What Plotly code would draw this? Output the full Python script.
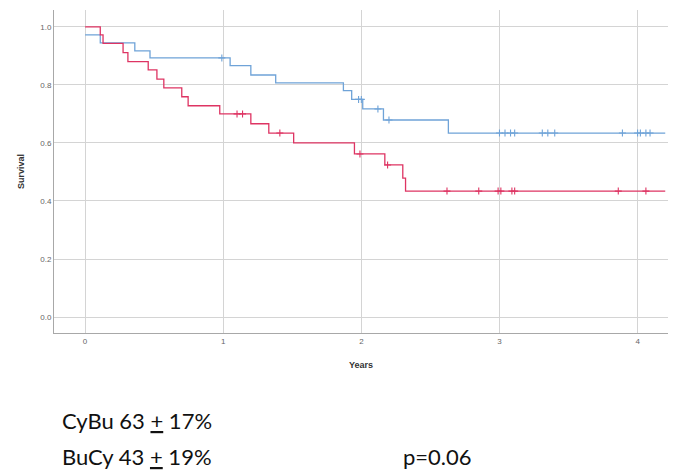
import plotly.graph_objects as go
import numpy as np

# CyBu (blue)
cybu_start = 0.972
cybu_times = [0.11, 0.36, 0.47, 1.05, 1.20, 1.38, 1.87, 1.93, 2.01, 2.16, 2.63]
cybu_surv = [0.945, 0.917, 0.893, 0.866, 0.834, 0.807, 0.780, 0.750, 0.717, 0.679, 0.634]
cybu_censor = [0.99, 1.98, 2.00, 2.12, 2.20, 3.00, 3.04, 3.08, 3.11, 3.31, 3.35, 3.40,
               3.89, 4.00, 4.02, 4.06, 4.09]
cybu_end = 4.2

# BuCy (red)
bucy_start = 1.0
bucy_times = [0.11, 0.13, 0.275, 0.31, 0.457, 0.52, 0.57, 0.70, 0.746, 0.975, 1.20, 1.33,
              1.51, 1.95, 2.17, 2.30, 2.32]
bucy_surv = [0.972, 0.943, 0.911, 0.880, 0.852, 0.820, 0.790, 0.759, 0.728, 0.700, 0.666,
             0.634, 0.600, 0.562, 0.524, 0.479, 0.434]
bucy_censor = [1.10, 1.14, 1.41, 1.99, 2.19, 2.62, 2.85, 2.99, 3.01, 3.09, 3.11, 3.86, 4.06]
bucy_end = 4.2

x_ticks = [0, 1, 2, 3, 4]
y_ticks = [0.0, 0.2, 0.4, 0.6, 0.8, 1.0]

BLUE = "#6fa3d8"
RED = "#de3463"


def step_xy(start, times, surv, end):
    xs = [0.0] + list(times) + [end]
    ys = [start] + list(surv) + [surv[-1]]
    return xs, ys


def surv_at(t, start, times, surv):
    s = start
    for ti, si in zip(times, surv):
        if ti <= t:
            s = si
    return s


fig = go.Figure()

for start, times, surv, end, cens, col in [
    (cybu_start, cybu_times, cybu_surv, cybu_end, cybu_censor, BLUE),
    (bucy_start, bucy_times, bucy_surv, bucy_end, bucy_censor, RED),
]:
    xs, ys = step_xy(start, times, surv, end)
    fig.add_trace(go.Scatter(x=xs, y=ys, mode="lines", line=dict(color=col, width=1.3, shape="hv"),
                             showlegend=False, hoverinfo="skip"))
    cy = [surv_at(t, start, times, surv) for t in cens]
    fig.add_trace(go.Scatter(x=cens, y=cy, mode="markers",
                             marker=dict(symbol="cross-thin", size=5, color=col,
                                         line=dict(color=col, width=1.1)),
                             showlegend=False, hoverinfo="skip"))

fig.update_layout(
    width=686, height=472,
    margin=dict(l=54, r=18, t=10, b=139),
    paper_bgcolor="white", plot_bgcolor="white",
    font=dict(family="Liberation Sans, Arial, sans-serif", color="#555555"),
    xaxis=dict(range=[-0.225, 4.22], tickvals=x_ticks, ticktext=[str(v) for v in x_ticks],
               showgrid=True, gridcolor="#d4d4d4", gridwidth=1, zeroline=False,
               showline=True, linecolor="#a8a8a8", linewidth=1, ticks="",
               tickfont=dict(size=8, color="#666666"),
               title=dict(text="<b>Years</b>", font=dict(size=9, color="#333333"), standoff=17)),
    yaxis=dict(range=[-0.055, 1.058], tickvals=y_ticks, ticktext=[f"{v:.1f}" for v in y_ticks],
               showgrid=True, gridcolor="#d4d4d4", gridwidth=1, zeroline=False,
               showline=True, linecolor="#a8a8a8", linewidth=1, ticks="",
               tickfont=dict(size=8, color="#666666"),
               title=dict(text="<b>Survival</b>", font=dict(size=9, color="#333333"), standoff=14)),
)

txt_font = dict(family="Lato, Open Sans, sans-serif", size=22, color="#111111")
fig.add_annotation(xref="paper", yref="paper", x=0.0098, y=-0.272, xanchor="left", yanchor="middle",
                   text="CyBu 63 <u>+</u> 17%", showarrow=False, font=txt_font)
fig.add_annotation(xref="paper", yref="paper", x=0.0098, y=-0.381, xanchor="left", yanchor="middle",
                   text="BuCy 43 <u>+</u> 19%", showarrow=False, font=txt_font)
fig.add_annotation(xref="paper", yref="paper", x=0.565, y=-0.381, xanchor="left", yanchor="middle",
                   text="p=0.06", showarrow=False, font=txt_font)

fig.write_html("out.html")
